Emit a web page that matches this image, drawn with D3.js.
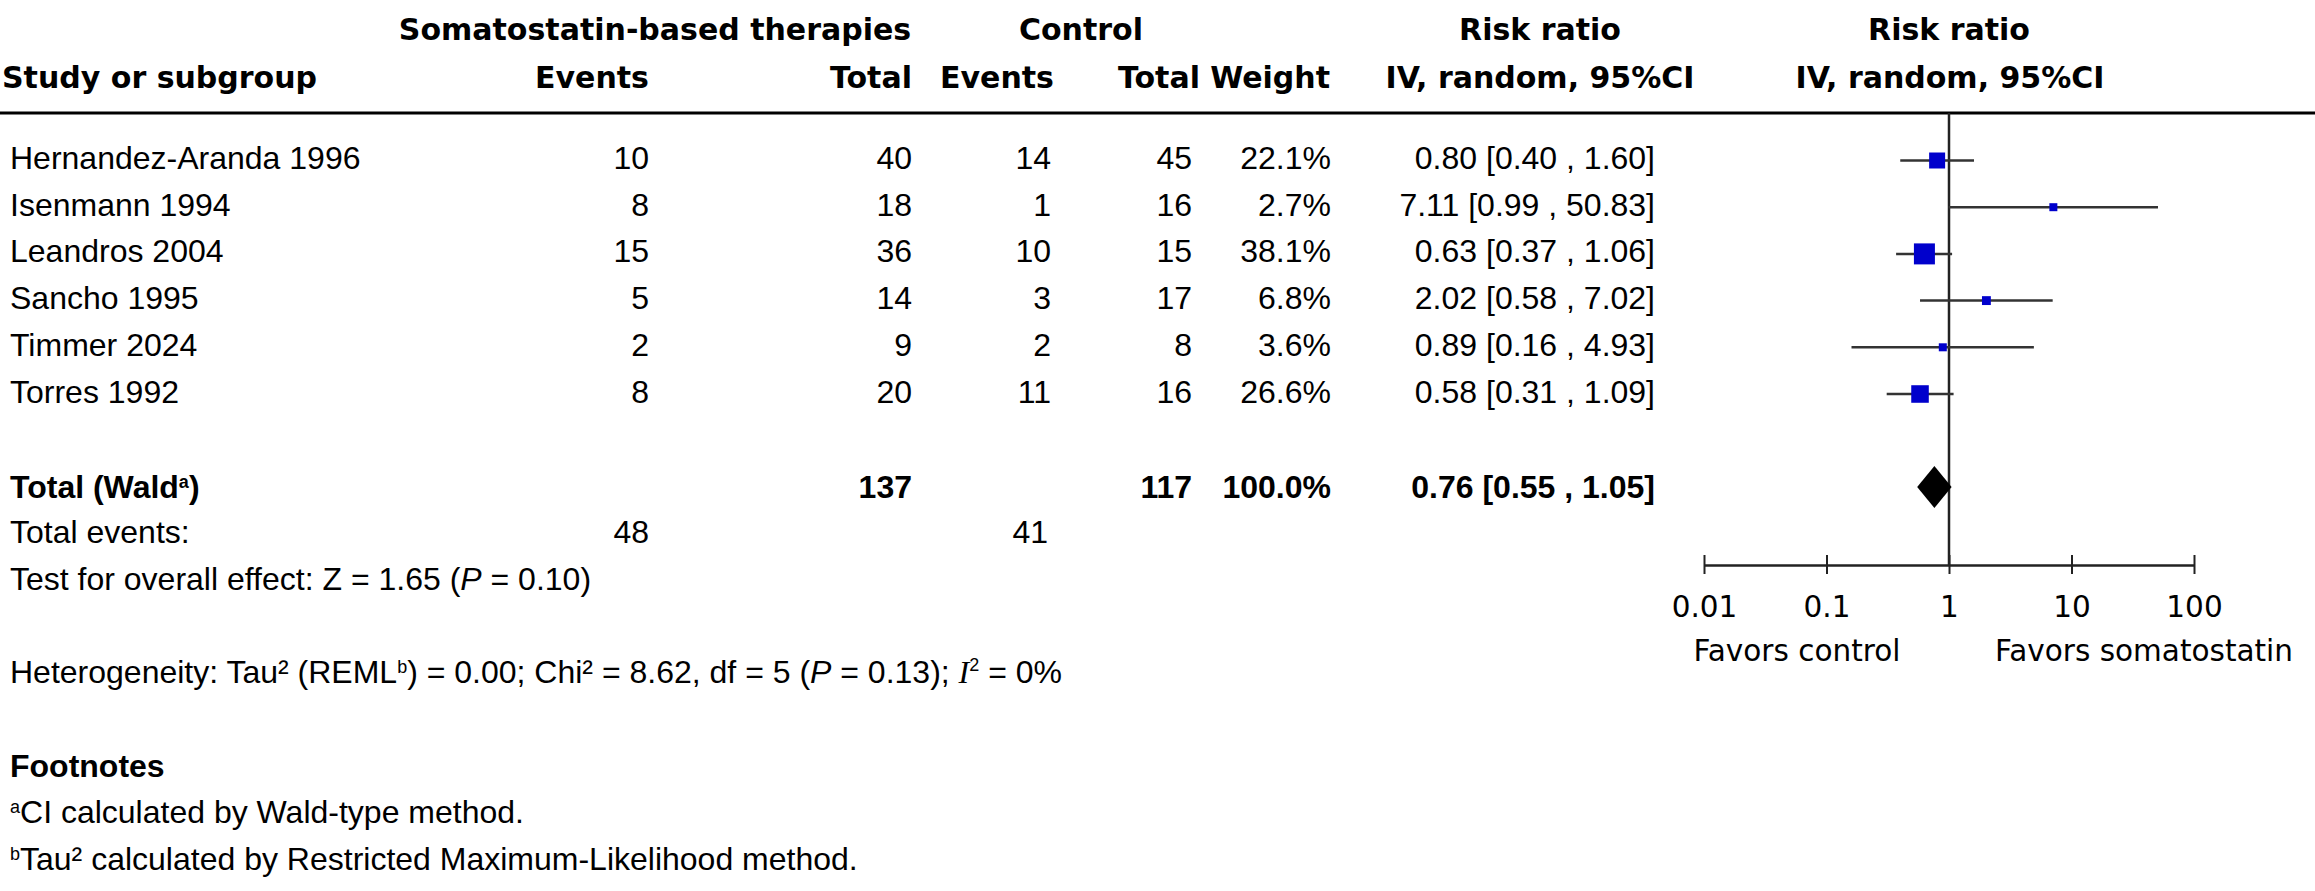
<!DOCTYPE html>
<html>
<head>
<meta charset="utf-8">
<script src="https://cdn.jsdelivr.net/npm/d3@7"></script>
<style>
  html, body { margin: 0; padding: 0; background: #fff; }
  .hd { font-family: "DejaVu Sans", Verdana, sans-serif; font-weight: bold; font-size: 30px; }
  .tx { font-family: "Liberation Sans", Arial, sans-serif; font-size: 32px; }
  .tk { font-family: "DejaVu Sans", Verdana, sans-serif; font-size: 29.5px; }
</style>
</head>
<body>
<svg id="chart"></svg>
<script>
// study data
var studies = ["Hernandez-Aranda 1996", "Isenmann 1994", "Leandros 2004", "Sancho 1995", "Timmer 2024", "Torres 1992"];
var expEvents = [10, 8, 15, 5, 2, 8];
var expTotal = [40, 18, 36, 14, 9, 20];
var ctrlEvents = [14, 1, 10, 3, 2, 11];
var ctrlTotal = [45, 16, 15, 17, 8, 16];
var weights = [22.1, 2.7, 38.1, 6.8, 3.6, 26.6];
var rr = [0.80, 7.11, 0.63, 2.02, 0.89, 0.58];
var rrLow = [0.40, 0.99, 0.37, 0.58, 0.16, 0.31];
var rrHigh = [1.60, 50.83, 1.06, 7.02, 4.93, 1.09];

// pooled
var totalExp = 137, totalCtrl = 117, totalWeight = 100.0;
var totalEventsExp = 48, totalEventsCtrl = 41;
var pooled = [0.76, 0.55, 1.05];

var tickValues = [0.01, 0.1, 1, 10, 100];

const width = 2315, height = 891;
const svg = d3.select("#chart").attr("width", width).attr("height", height);

const x = d3.scaleLog().domain([0.01, 100]).range([1704, 2194]);
const y = d3.scaleLinear().domain([0, studies.length - 1]).range([160.5, 394]);
const size = d3.scaleSqrt().domain([0, d3.max(weights)]).range([0, 21]);
const f2 = d3.format(".2f");
const f1 = d3.format(".1f");

// column right edges
const col = { expEv: 649, expTot: 912, ctrlEv: 1051, ctrlTot: 1192, wt: 1331, ci: 1655 };

// headers
const h = svg.append("g").attr("class", "hd");
[["Somatostatin-based therapies", 655, 40, "middle"],
 ["Control", 1081, 40, "middle"],
 ["Risk ratio", 1540, 40, "middle"],
 ["Risk ratio", 1949, 40, "middle"],
 ["Study or subgroup", 2, 88, "start"],
 ["Events", 592, 88, "middle"],
 ["Total", 912, 88, "end"],
 ["Events", 997, 88, "middle"],
 ["Total", 1200, 88, "end"],
 ["Weight", 1330, 88, "end"],
 ["IV, random, 95%CI", 1540, 88, "middle"],
 ["IV, random, 95%CI", 1950, 88, "middle"]].forEach(function (d) {
  h.append("text").attr("x", d[1]).attr("y", d[2]).attr("text-anchor", d[3]).text(d[0]);
});

svg.append("line").attr("x1", 0).attr("x2", width).attr("y1", 113).attr("y2", 113)
  .attr("stroke", "#000").attr("stroke-width", 3);

// study rows
const rows = svg.append("g").attr("class", "tx");
studies.forEach(function (s, i) {
  const by = y(i) + 8.5;
  rows.append("text").attr("x", 10).attr("y", by).text(s);
  rows.append("text").attr("x", col.expEv).attr("y", by).attr("text-anchor", "end").text(expEvents[i]);
  rows.append("text").attr("x", col.expTot).attr("y", by).attr("text-anchor", "end").text(expTotal[i]);
  rows.append("text").attr("x", col.ctrlEv).attr("y", by).attr("text-anchor", "end").text(ctrlEvents[i]);
  rows.append("text").attr("x", col.ctrlTot).attr("y", by).attr("text-anchor", "end").text(ctrlTotal[i]);
  rows.append("text").attr("x", col.wt).attr("y", by).attr("text-anchor", "end").text(f1(weights[i]) + "%");
  rows.append("text").attr("x", col.ci).attr("y", by).attr("text-anchor", "end")
    .text(f2(rr[i]) + " [" + f2(rrLow[i]) + " , " + f2(rrHigh[i]) + "]");
});

// total rows
const tb = 498;
const tot = svg.append("g").attr("class", "tx");
const tw = tot.append("text").attr("x", 10).attr("y", tb).attr("font-weight", "bold");
tw.append("tspan").text("Total (Wald");
tw.append("tspan").attr("font-size", "18px").attr("dy", -10).text("a");
tw.append("tspan").attr("dy", 10).text(")");
tot.append("text").attr("x", col.expTot).attr("y", tb).attr("text-anchor", "end").attr("font-weight", "bold").text(totalExp);
tot.append("text").attr("x", col.ctrlTot).attr("y", tb).attr("text-anchor", "end").attr("font-weight", "bold").text(totalCtrl);
tot.append("text").attr("x", col.wt).attr("y", tb).attr("text-anchor", "end").attr("font-weight", "bold").text(f1(totalWeight) + "%");
tot.append("text").attr("x", col.ci).attr("y", tb).attr("text-anchor", "end").attr("font-weight", "bold")
  .text(f2(pooled[0]) + " [" + f2(pooled[1]) + " , " + f2(pooled[2]) + "]");

tot.append("text").attr("x", 10).attr("y", 543).text("Total events:");
tot.append("text").attr("x", col.expEv).attr("y", 543).attr("text-anchor", "end").text(totalEventsExp);
tot.append("text").attr("x", col.ctrlEv - 3).attr("y", 543).attr("text-anchor", "end").text(totalEventsCtrl);

const test = tot.append("text").attr("x", 10).attr("y", 590);
test.append("tspan").text("Test for overall effect: Z = 1.65 (");
test.append("tspan").attr("font-style", "italic").text("P");
test.append("tspan").text(" = 0.10)");

const het = tot.append("text").attr("x", 10).attr("y", 683);
het.append("tspan").text("Heterogeneity: Tau² (REML");
het.append("tspan").attr("font-size", "18px").attr("dy", -10).text("b");
het.append("tspan").attr("dy", 10).text(") = 0.00; Chi² = 8.62, df = 5 (");
het.append("tspan").attr("font-style", "italic").text("P");
het.append("tspan").text(" = 0.13); ");
het.append("tspan").attr("font-style", "italic").attr("font-family", "Liberation Serif, serif").text("I");
het.append("tspan").attr("font-size", "18px").attr("dy", -12).text("2");
het.append("tspan").attr("dy", 12).text(" = 0%");

tot.append("text").attr("x", 10).attr("y", 777).attr("font-weight", "bold").text("Footnotes");
const fa = tot.append("text").attr("x", 10).attr("y", 823);
fa.append("tspan").attr("font-size", "18px").attr("dy", -10).text("a");
fa.append("tspan").attr("dy", 10).text("CI calculated by Wald-type method.");
const fb = tot.append("text").attr("x", 10).attr("y", 870);
fb.append("tspan").attr("font-size", "18px").attr("dy", -10).text("b");
fb.append("tspan").attr("dy", 10).text("Tau² calculated by Restricted Maximum-Likelihood method.");

// forest plot
const plot = svg.append("g");
const axisY = 565;

plot.append("line").attr("x1", x(1)).attr("x2", x(1)).attr("y1", 113).attr("y2", axisY)
  .attr("stroke", "#222").attr("stroke-width", 2.5);

plot.selectAll(".ci").data(studies).enter().append("line")
  .attr("x1", (d, i) => x(rrLow[i])).attr("x2", (d, i) => x(rrHigh[i]))
  .attr("y1", (d, i) => y(i)).attr("y2", (d, i) => y(i))
  .attr("stroke", "#333").attr("stroke-width", 2.5);

plot.selectAll(".sq").data(studies).enter().append("rect")
  .attr("x", (d, i) => x(rr[i]) - Math.max(8, size(weights[i])) / 2)
  .attr("y", (d, i) => y(i) - Math.max(8, size(weights[i])) / 2)
  .attr("width", (d, i) => Math.max(8, size(weights[i])))
  .attr("height", (d, i) => Math.max(8, size(weights[i])))
  .attr("fill", "#0000cc");

const dy = 487;
plot.append("path")
  .attr("d", "M" + x(pooled[1]) + "," + dy + "L" + x(pooled[0]) + "," + (dy - 21) +
    "L" + x(pooled[2]) + "," + dy + "L" + x(pooled[0]) + "," + (dy + 21) + "Z")
  .attr("fill", "#000");

const ax = plot.append("g").attr("transform", "translate(0," + axisY + ")")
  .call(d3.axisBottom(x).tickValues(tickValues).tickFormat(d3.format("~g")).tickSize(9).tickPadding(43).tickSizeOuter(0));
ax.select(".domain").attr("stroke", "#222").attr("stroke-width", 2.5);
ax.selectAll(".tick line").attr("y1", -10).attr("stroke", "#222").attr("stroke-width", 2);
ax.selectAll(".tick text").attr("class", "tk").attr("fill", "#000").attr("dy", 0).attr("y", 52);

plot.append("text").attr("class", "tk").attr("x", 1797).attr("y", 661).attr("text-anchor", "middle").text("Favors control");
plot.append("text").attr("class", "tk").attr("x", 2144).attr("y", 661).attr("text-anchor", "middle").text("Favors somatostatin");
</script>
</body>
</html>
